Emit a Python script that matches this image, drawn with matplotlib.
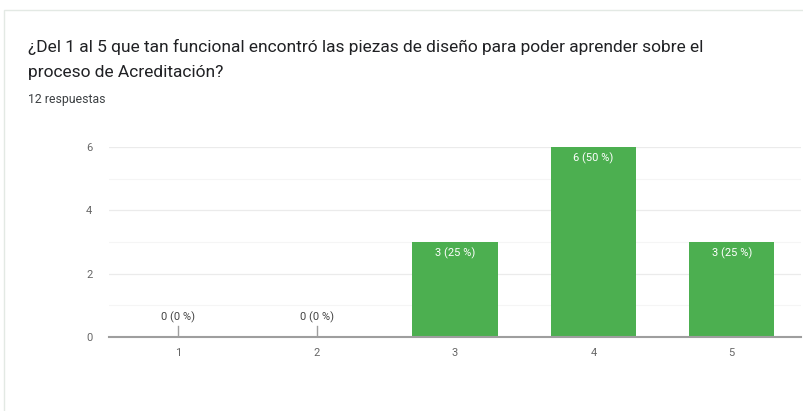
import matplotlib
matplotlib.use("Agg")
import matplotlib.pyplot as plt
from matplotlib.patches import Rectangle

categories = ["1", "2", "3", "4", "5"]
counts = [0, 0, 3, 6, 3]
labels = ["0 (0 %)", "0 (0 %)", "3 (25 %)", "6 (50 %)", "3 (25 %)"]
yticks = [0, 2, 4, 6]
title_lines = ["¿Del 1 al 5 que tan funcional encontró las piezas de diseño para poder aprender sobre el",
               "proceso de Acreditación?"]
subtitle = "12 respuestas"

plt.rcParams['font.family'] = ['Roboto', 'DejaVu Sans']

W, H = 804, 411
fig = plt.figure(figsize=(W / 100, H / 100), dpi=100)
fig.patch.set_facecolor('white')

# card border
fig.add_artist(Rectangle((4 / W, -0.05), 1.2, 1 - 10 / H + 0.05, transform=fig.transFigure,
                         fill=False, edgecolor='#e3e9e4', linewidth=1.0))

fig.text(28 / W, 1 - 47 / H, title_lines[0], fontsize=12.5, color='#202124', va='center', ha='left')
fig.text(28 / W, 1 - 73 / H, title_lines[1], fontsize=12.5, color='#202124', va='center', ha='left')
fig.text(28 / W, 1 - 99 / H, subtitle, fontsize=8.8, color='#3c4043', va='center', ha='left')

ax = fig.add_axes([109 / W, 1 - 337 / H, (801 - 109) / W, (337 - 147) / H])
x = list(range(1, len(categories) + 1))
bars = ax.bar(x, counts, width=0.615, color='#4CAF50', zorder=3)
ax.set_xlim(0.5, len(categories) + 0.5)
ax.set_ylim(0, 6)
ax.set_yticks(yticks)
ax.set_yticks([1, 3, 5], minor=True)
ax.set_xticks(x)
ax.set_xticklabels(categories)
ax.grid(axis='y', which='major', color='#ebebeb', linewidth=0.9, zorder=0)
ax.grid(axis='y', which='minor', color='#f5f5f5', linewidth=0.8, zorder=0)
for s in ['top', 'right', 'left']:
    ax.spines[s].set_visible(False)
ax.spines['bottom'].set_color('#9e9e9e')
ax.spines['bottom'].set_linewidth(1.5)
ax.spines['bottom'].set_zorder(4)
ax.tick_params(axis='both', which='both', length=0, colors='#666666', labelsize=8)
ax.tick_params(axis='x', pad=8)
ax.tick_params(axis='y', pad=12)

for xi, c, lab in zip(x, counts, labels):
    if c > 0:
        ax.annotate(lab, (xi, c), xytext=(0, -4), textcoords='offset points',
                    ha='center', va='top', color='white', fontsize=8, zorder=5)
    else:
        ax.plot([xi, xi], [0, 0.35], color='#9e9e9e', linewidth=1, zorder=4)
        ax.annotate(lab, (xi, 0.35), xytext=(0, 2), textcoords='offset points',
                    ha='center', va='bottom', color='#444444', fontsize=8, zorder=5)

fig.savefig("out.png", dpi=100, facecolor='white')
